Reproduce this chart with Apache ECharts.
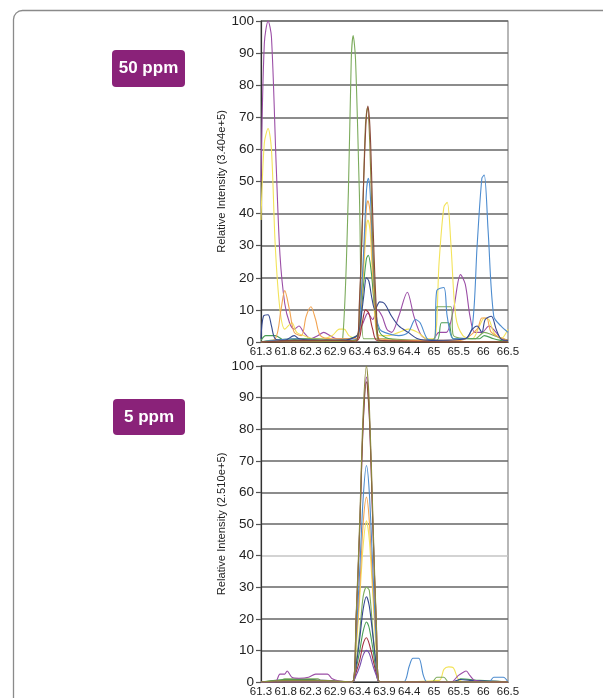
<!DOCTYPE html>
<html>
<head>
<meta charset="utf-8">
<script src="https://cdn.jsdelivr.net/npm/echarts@6/dist/echarts.min.js"></script>
<style>
html,body{margin:0;padding:0;background:#fff;}
#main{width:603px;height:698px;}
</style>
</head>
<body>
<div id="main"></div>
<script>
// ---- axis ticks ----
const tickValues = [61.3, 61.82, 62.34, 62.86, 63.38, 63.9, 64.42, 64.94, 65.46, 65.98, 66.5];
const tickLabels = ['61.3','61.8','62.3','62.9','63.4','63.9','64.4','65','65.5','66','66.5'];
const yTicks = [0,10,20,30,40,50,60,70,80,90,100];
const panelLabels = ['50 ppm', '5 ppm'];
const axisNames = ['Relative Intensity (3.404e+5)', 'Relative Intensity (2.510e+5)'];

// ---- 50 ppm traces [time, relative intensity] ----
const p50Purple = [[61.3,50],[61.37,93],[61.45,100],[61.52,95],[61.62,55],[61.7,27],[61.8,12],[61.9,6],[62.0,4],[62.1,5],[62.2,3],[62.35,1],[62.5,2],[62.62,3],[62.75,2],[62.9,1],[63.1,1],[63.3,1.5],[63.45,6],[63.55,9],[63.65,7],[63.75,10],[63.85,8],[63.95,4],[64.05,3],[64.2,8],[64.38,15.5],[64.52,8],[64.68,2],[64.9,0.5],[65.05,3],[65.2,3],[65.35,10],[65.5,21],[65.6,18],[65.7,8],[65.8,3],[65.95,3],[66.1,5],[66.25,3],[66.4,0.5],[66.5,0.5]];
const p50Yellow = [[61.3,38],[61.37,62],[61.45,66.5],[61.52,60],[61.6,30],[61.7,10],[61.8,4],[61.95,6],[62.05,3],[62.2,2],[62.4,1],[62.6,1],[62.8,2],[62.95,4],[63.05,4],[63.15,2],[63.32,1],[63.4,9],[63.46,22],[63.52,36],[63.55,38],[63.6,34],[63.66,16],[63.73,3],[63.8,2],[64.0,2],[64.2,3],[64.4,4],[64.6,3],[64.8,1],[64.95,1],[65.05,25],[65.15,42],[65.22,43.5],[65.3,30],[65.4,8],[65.55,2],[65.75,1],[65.9,5],[66.0,7.5],[66.1,7],[66.2,3],[66.35,1],[66.5,4]];
const p50LightGreen = [[61.3,0],[61.5,0.5],[62.0,1],[62.5,1],[62.9,0.5],[63.02,1],[63.14,47],[63.2,88],[63.24,95.5],[63.29,88],[63.37,47],[63.46,1],[63.6,1],[64.0,1],[64.5,0.5],[64.95,1],[65.0,11],[65.3,11],[65.35,2],[65.8,1],[66.0,3],[66.2,2],[66.5,0.5]];
const p50Brown = [[61.3,0],[62.0,0.5],[63.0,0.5],[63.3,0],[63.37,12],[63.43,36],[63.5,65],[63.55,73.5],[63.6,65],[63.66,36],[63.73,10],[63.8,0.5],[66.5,0]];
const p50Olive = [[61.3,0],[63.3,0.5],[63.38,14],[63.44,40],[63.5,68],[63.54,73],[63.59,62],[63.65,32],[63.72,8],[63.8,0],[66.5,0]];
const p50Blue = [[61.3,0],[61.6,0.5],[62.0,1],[62.5,0.5],[63.0,0.5],[63.32,1],[63.4,12],[63.46,28],[63.52,47],[63.56,51],[63.6,46],[63.66,25],[63.73,8],[63.8,4],[63.9,3],[64.2,2],[64.4,3],[64.55,7],[64.65,6],[64.8,1],[64.95,0.5],[65.0,16],[65.15,17],[65.22,8],[65.35,1],[65.6,1],[65.75,5],[65.85,30],[65.95,51],[66.0,52],[66.08,35],[66.2,8],[66.35,5],[66.5,3]];
const p50Orange = [[61.3,0],[61.6,1],[61.72,10],[61.8,16],[61.9,10],[62.0,3],[62.15,2],[62.25,8],[62.35,11],[62.45,7],[62.55,2],[62.8,1],[63.32,1],[63.4,10],[63.46,25],[63.52,42],[63.55,44],[63.6,40],[63.66,20],[63.73,4],[63.8,1],[64.5,0.5],[65.5,0.5],[65.85,4],[65.95,7.5],[66.05,7.5],[66.15,3],[66.5,0.5]];
const p50DarkBlue = [[61.3,1],[61.35,8],[61.45,8.5],[61.52,5],[61.6,1],[61.8,0.5],[62.0,2],[62.1,1],[62.5,0.5],[63.0,0.5],[63.32,2],[63.4,7],[63.46,14],[63.52,20],[63.57,19],[63.63,14],[63.7,10],[63.8,12.5],[63.9,12],[64.05,8],[64.2,5],[64.4,3],[64.6,1],[64.9,0.5],[65.6,1],[65.75,4],[65.85,5],[65.95,3],[66.02,7],[66.15,8],[66.25,4],[66.35,1],[66.5,0.5]];
const p50DarkRed = [[61.3,0],[63.32,0.5],[63.42,5],[63.5,10],[63.57,9],[63.65,4],[63.75,0.5],[66.5,0]];
const p50Green = [[61.3,0.5],[61.4,2],[61.6,2],[61.8,0.5],[62.2,1],[62.6,0.5],[63.32,2],[63.4,8],[63.46,18],[63.52,26],[63.56,27],[63.62,22],[63.7,10],[63.8,3],[64.0,1],[64.4,0.5],[65.0,0.5],[65.1,6],[65.25,6],[65.35,1],[65.9,1],[66.0,2],[66.2,1],[66.5,0]];

// ---- 5 ppm traces [time, relative intensity] ----
const p5Purple = [[61.3,0],[61.6,0],[61.7,2.5],[61.8,2.5],[61.85,3.5],[61.95,1.5],[62.1,1.2],[62.3,1.5],[62.45,2.5],[62.7,2.5],[62.8,1],[62.95,0.3],[63.22,0],[63.3,19],[63.38,50],[63.45,82],[63.52,96.5],[63.58,85],[63.66,48],[63.73,17],[63.8,0],[65.3,0],[65.45,2],[65.55,3],[65.62,3.5],[65.7,2],[65.8,0.5],[66.5,0]];
const p5Yellow = [[61.3,0],[62.0,0.5],[63.22,0],[63.3,10],[63.38,27],[63.45,43],[63.52,51],[63.58,45],[63.66,26],[63.73,9],[63.8,0],[65.05,0.5],[65.15,4],[65.25,4.8],[65.35,4.5],[65.45,1],[65.6,0],[66.5,0]];
const p5LightGreen = [[61.3,0],[61.7,0.5],[61.8,1],[62.5,1],[62.6,0],[63.22,0],[63.3,6],[63.38,16],[63.45,27],[63.52,30],[63.58,29],[63.66,15],[63.73,5],[63.8,0],[64.9,0],[65.0,1.5],[65.15,1.5],[65.25,0],[66.5,0]];
const p5Brown = [[61.3,0],[63.22,0],[63.3,19],[63.38,49],[63.45,81],[63.52,95],[63.58,84],[63.66,47],[63.73,17],[63.8,0],[66.5,0]];
const p5Olive = [[61.3,0],[61.8,0.5],[62.5,0.5],[63.22,0],[63.3,20],[63.38,52],[63.45,85],[63.52,100],[63.58,88],[63.66,50],[63.73,18],[63.8,0],[66.5,0]];
const p5Blue = [[61.3,0],[63.22,0],[63.3,14],[63.38,36],[63.45,58],[63.52,68.5],[63.58,60],[63.66,34],[63.73,12],[63.8,0],[64.3,0],[64.42,5],[64.5,7.5],[64.62,7.5],[64.72,2],[64.8,0],[66.1,0],[66.2,1.5],[66.4,1.5],[66.5,0]];
const p5Orange = [[61.3,0],[63.22,0],[63.3,12],[63.38,30],[63.45,50],[63.52,58.5],[63.58,51],[63.66,29],[63.73,11],[63.8,0],[66.5,0]];
const p5DarkBlue = [[61.3,0],[62.3,0.5],[62.6,0.5],[63.22,0],[63.3,5],[63.38,14],[63.45,23],[63.52,27],[63.58,24],[63.66,14],[63.73,5],[63.8,0],[65.3,0],[65.5,0.8],[65.7,0.5],[66.5,0]];
const p5DarkRed = [[61.3,0],[63.22,0],[63.3,3],[63.38,7],[63.45,12],[63.52,14],[63.58,12],[63.66,7],[63.73,2.5],[63.8,0],[66.5,0]];
const p5Green = [[61.3,0],[61.8,0.8],[62.4,0.8],[62.6,0],[63.22,0],[63.3,4],[63.38,10],[63.45,16],[63.52,19],[63.58,17],[63.66,10],[63.73,3],[63.8,0],[65.4,0],[65.5,1],[65.9,0.5],[66.5,0]];
const p5Violet = [[61.3,0],[63.22,0],[63.3,2],[63.38,5],[63.45,8.5],[63.52,10],[63.58,9],[63.66,5],[63.73,2],[63.8,0],[66.5,0]];

const colors = {
  purple:'#9b4ea6', yellow:'#f3e35a', lightgreen:'#7cab5c', brown:'#8a4a3a', olive:'#8c8a3e',
  blue:'#4d8ccf', orange:'#f2a452', darkblue:'#34488e', darkred:'#a3303e', green:'#4a9f55', violet:'#7a52b0'
};

const panelTop = [['purple',p50Purple],['yellow',p50Yellow],['lightgreen',p50LightGreen],['green',p50Green],['orange',p50Orange],['blue',p50Blue],['darkblue',p50DarkBlue],['darkred',p50DarkRed],['olive',p50Olive],['brown',p50Brown]];
const panelBot = [['yellow',p5Yellow],['lightgreen',p5LightGreen],['green',p5Green],['darkblue',p5DarkBlue],['darkred',p5DarkRed],['violet',p5Violet],['orange',p5Orange],['blue',p5Blue],['purple',p5Purple],['brown',p5Brown],['olive',p5Olive]];

const FONT = "'Liberation Sans Narrow','Liberation Sans',Arial,sans-serif";

function xAxisFor(gi){
  return {
    type:'value', gridIndex:gi, min:61.3, max:66.5,
    axisLine:{show:true,lineStyle:{color:'#333',width:1.2}},
    axisTick:{show:false},
    splitLine:{show:false},
    axisLabel:{customValues:tickValues, color:'#222', fontSize:11.5, fontFamily:FONT, margin:4,
      formatter:function(v){ let i = tickValues.findIndex(t=>Math.abs(t-v)<1e-6); return i>=0?tickLabels[i]:''; }}
  };
}
function yAxisFor(gi, splitColors){
  return {
    type:'value', gridIndex:gi, min:0, max:100, interval:10,
    name:axisNames[gi], nameLocation:'middle', nameGap:28, nameRotate:90,
    nameTextStyle:{color:'#222', fontSize:11.2, fontFamily:FONT},
    axisLine:{show:true,lineStyle:{color:'#333',width:1.2}},
    axisTick:{show:true,length:5,lineStyle:{color:'#555',width:1.2}},
    axisLabel:{color:'#222', fontSize:13.5, fontFamily:FONT, margin:7},
    splitLine:{show:true,lineStyle:{color:splitColors,width:1.5}}
  };
}

const series = [];
panelTop.forEach(([c,d])=>series.push({type:'line',xAxisIndex:0,yAxisIndex:0,data:d,showSymbol:false,symbol:'none',smooth:0.3,lineStyle:{width:1.1,color:colors[c]},itemStyle:{color:colors[c]},silent:true,animation:false}));
panelBot.forEach(([c,d])=>series.push({type:'line',xAxisIndex:1,yAxisIndex:1,data:d,showSymbol:false,symbol:'none',smooth:0.3,lineStyle:{width:1.1,color:colors[c]},itemStyle:{color:colors[c]},silent:true,animation:false}));

const darkLines = yTicks.map(()=> '#666');
const botLines = yTicks.map((v)=> v===40 ? '#c4c4c4' : '#666');

const chart = echarts.init(document.getElementById('main'), null, {renderer:'canvas'});
chart.setOption({
  animation:false,
  backgroundColor:'#fff',
  grid:[
    {left:261, top:21, width:247, height:321, show:true, borderColor:'#888', borderWidth:1.2, backgroundColor:'transparent'},
    {left:261, top:366, width:247, height:318, show:true, borderColor:'#888', borderWidth:1.2, backgroundColor:'transparent'}
  ],
  xAxis:[xAxisFor(0), xAxisFor(1)],
  yAxis:[yAxisFor(0,darkLines), yAxisFor(1,botLines)],
  graphic:[
    {type:'rect', left:11, top:8, shape:{width:620, height:720, r:9}, style:{fill:'none', stroke:'#8a8a8a', lineWidth:1.3}, silent:true, z:-10},
    {type:'group', left:112, top:50, children:[
      {type:'rect', shape:{x:0,y:0,width:73,height:37,r:4}, style:{fill:'#8a2279'}},
      {type:'text', style:{x:36.5,y:18.5,text:panelLabels[0],fill:'#fff',font:"bold 17px 'Liberation Sans',Arial,sans-serif",align:'center',verticalAlign:'middle'}}
    ]},
    {type:'group', left:113, top:399, children:[
      {type:'rect', shape:{x:0,y:0,width:72,height:36,r:4}, style:{fill:'#8a2279'}},
      {type:'text', style:{x:36,y:18,text:panelLabels[1],fill:'#fff',font:"bold 17px 'Liberation Sans',Arial,sans-serif",align:'center',verticalAlign:'middle'}}
    ]}
  ],
  series:series
});
</script>
</body>
</html>
